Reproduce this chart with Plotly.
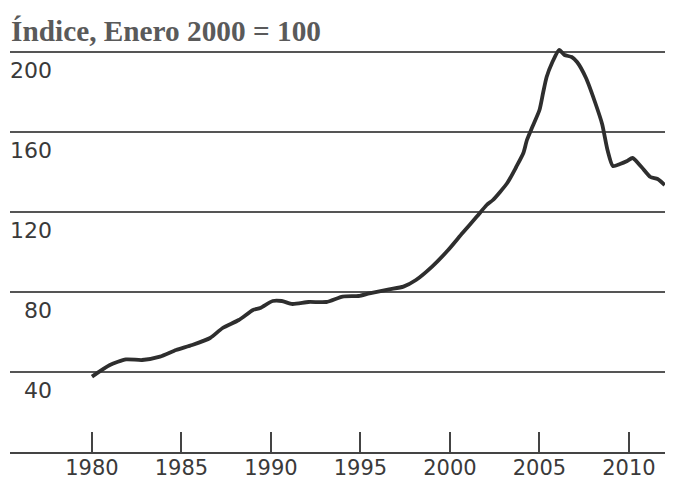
import plotly.graph_objects as go

# Data
years = [1980.0, 1981.0, 1981.9, 1982.8, 1983.8, 1984.7, 1985.6, 1986.6, 1987.3,
         1988.2, 1989.0, 1989.4, 1990.1, 1990.6, 1991.2, 1992.1, 1993.1, 1994.0,
         1994.9, 1995.5, 1996.6, 1997.4, 1998.1, 1999.0, 1999.9, 2000.7, 2001.5,
         2002.05, 2002.4, 2003.2, 2003.7, 2004.1, 2004.3, 2004.6, 2005.0, 2005.2,
         2005.4, 2005.7, 2006.1, 2006.4, 2006.8, 2007.1, 2007.6, 2008.1, 2008.5,
         2008.8, 2009.1, 2009.5, 2009.9, 2010.2, 2010.7, 2011.2, 2011.6, 2012.0]
index_values = [37.7, 43.5, 46.3, 46.0, 47.7, 51.0, 53.5, 57.0, 62.0,
                66.0, 71.0, 72.0, 75.5, 75.5, 74.0, 75.0, 75.0, 77.7,
                78.0, 79.3, 81.3, 82.7, 86.0, 92.7, 101.0, 109.5, 117.7,
                123.5, 126.0, 134.5, 142.5, 149.5, 156.0, 162.5, 171.0, 179.5,
                187.5, 194.5, 201.0, 198.5, 197.5, 195.0, 187.0, 175.0, 164.0,
                151.0, 143.0, 144.0, 145.5, 147.0, 142.5, 137.5, 136.5, 133.5]

x_ticks = [1980, 1985, 1990, 1995, 2000, 2005, 2010]
y_ticks = [40, 80, 120, 160, 200]
y_tick_labels = ["40", "80", "120", "160", "200"]
title_text = "Índice, Enero 2000 = 100"

LABEL_FONT = "DejaVu Sans, sans-serif"

fig = go.Figure()
fig.add_trace(go.Scatter(
    x=years, y=index_values, mode="lines",
    line=dict(color="#2e2e2e", width=3.8, shape="spline", smoothing=0.6),
    hoverinfo="skip", showlegend=False,
))

annotations = [
    dict(text=f"<b>{title_text}</b>", xref="paper", yref="paper", x=-0.002, y=1.028,
         xanchor="left", yanchor="middle", showarrow=False,
         font=dict(family="Liberation Serif, Times New Roman, serif", size=29.3, color="#5a5a5a"))
]
for v, lab in zip(y_ticks, y_tick_labels):
    annotations.append(dict(
        text=lab, xref="paper", yref="y", x=0.066, y=v, yshift=-18,
        xanchor="right", yanchor="middle", showarrow=False,
        font=dict(family=LABEL_FONT, size=22, color="#3a3a3a")))

fig.update_layout(
    width=665, height=473,
    margin=dict(l=2, r=0, t=34, b=29, autoexpand=False),
    paper_bgcolor="white", plot_bgcolor="white",
    annotations=annotations,
    xaxis=dict(
        range=[1975.42, 2012.46], tickvals=x_ticks, ticktext=[str(t) for t in x_ticks],
        ticks="inside", ticklen=20, tickwidth=1.5, tickcolor="#444",
        showline=True, linecolor="#444", linewidth=1.5, automargin=False,
        showgrid=False, zeroline=False, ticklabelstandoff=-4,
        tickfont=dict(family=LABEL_FONT, size=21, color="#3a3a3a"),
    ),
    yaxis=dict(
        range=[0, 205], tickvals=y_ticks, showticklabels=False, automargin=False,
        showgrid=True, gridcolor="#555", gridwidth=1.6,
        zeroline=False, showline=False, ticks="",
    ),
)

fig.write_html("out.html")
